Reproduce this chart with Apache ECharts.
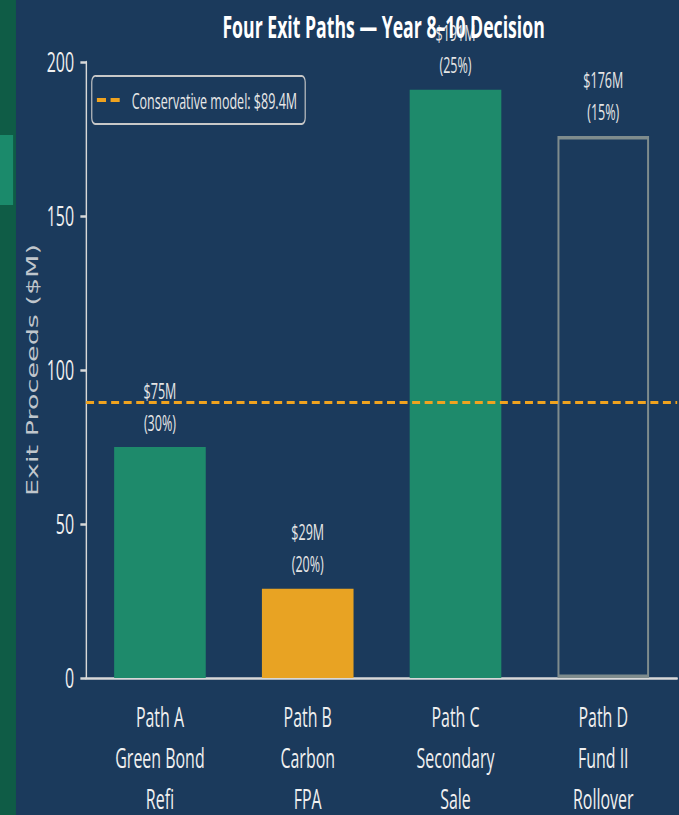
<!DOCTYPE html>
<html><head><meta charset="utf-8">
<script src="https://cdn.jsdelivr.net/npm/echarts@6/dist/echarts.min.js"></script>
<style>
html,body{margin:0;padding:0;background:#1b3a5c;overflow:hidden;width:679px;height:815px;}
#c{width:1191px;height:815px;transform:scaleX(0.57);transform-origin:0 0;}
</style>
</head><body><div id="c"></div>
<script>
const categories = ["Path A\nGreen Bond\nRefi", "Path B\nCarbon\nFPA", "Path C\nSecondary\nSale", "Path D\nFund II\nRollover"];
const proceeds = [75, 29, 191, 176];
const probabilities = [30, 20, 25, 15];
const barColors = ["#1e8a6b", "#e8a323", "#1e8a6b", "outline"];
const conservative = 89.4;
const conservativeName = "Conservative model: $89.4M";
const yTicks = [0, 50, 100, 150, 200];

const FONT = "Open Sans";
const chart = echarts.init(document.getElementById('c'), null, {renderer: 'svg'});
const data = proceeds.map((v, i) => {
  if (barColors[i] === 'outline') {
    return {value: v, itemStyle: {color: 'rgba(0,0,0,0)', borderColor: '#7f8c8d', borderWidth: 3.5}};
  }
  return {value: v, itemStyle: {color: barColors[i]}};
});
chart.setOption({
  backgroundColor: '#1b3a5c',
  animation: false,
  graphic: [
    {type: 'rect', left: 0, top: 0, shape: {width: 28, height: 815}, style: {fill: '#0f5c46'}, z: 0},
    {type: 'rect', left: 0, top: 135, shape: {width: 23, height: 70}, style: {fill: '#1b8a6b'}, z: 1}
  ],
  title: {
    text: 'Four Exit Paths — Year 8–10 Decision',
    left: 668, top: 5, textAlign: 'center',
    textStyle: {color: '#ffffff', fontFamily: FONT, fontWeight: 'bold', fontSize: 31}
  },
  legend: {
    left: 161, top: 76,
    data: [{name: conservativeName, icon: 'path://M0,0 H16 V4 H0 Z M24,0 H40 V4 H24 Z'}],
    backgroundColor: '#1b3a5c',
    borderColor: '#c8c8c8', borderWidth: 2, borderRadius: 6,
    padding: [13, 14, 13, 9],
    itemWidth: 40, itemHeight: 4,
    textStyle: {color: '#e8e8e8', fontFamily: FONT, fontSize: 22, padding: [0, 0, 0, 16]}
  },
  grid: {left: 151, right: 3, top: 62, bottom: 137, containLabel: false, outerBoundsMode: 'none'},
  xAxis: {
    type: 'category', data: categories,
    axisLine: {lineStyle: {color: '#d8d8d8', width: 2.5}},
    axisTick: {alignWithLabel: true, length: 8, lineStyle: {color: '#d8d8d8', width: 2.5}},
    axisLabel: {color: '#f0f0f0', fontFamily: FONT, fontSize: 28, lineHeight: 41, margin: 18}
  },
  yAxis: {
    type: 'value', min: 0, max: 200, interval: 50,
    name: 'Exit Proceeds ($M)', nameLocation: 'middle', nameGap: 68, nameRotate: 90,
    nameTextStyle: {color: '#c0c6cc', fontFamily: 'DejaVu Sans', fontSize: 27},
    splitLine: {show: false},
    axisLine: {show: true, lineStyle: {color: '#d8d8d8', width: 2.5}},
    axisTick: {show: true, length: 10, lineStyle: {color: '#d8d8d8', width: 2.5}},
    axisLabel: {color: '#f0f0f0', fontFamily: FONT, fontSize: 28, margin: 21,
      formatter: v => yTicks.includes(v) ? String(v) : ''}
  },
  series: [
    {
      type: 'bar', data: data, barWidth: '62%',
      label: {
        show: true, position: 'top', distance: 9,
        color: '#e6e6e6', fontFamily: FONT, fontSize: 22, lineHeight: 32,
        formatter: p => '$' + proceeds[p.dataIndex] + 'M\n(' + probabilities[p.dataIndex] + '%)'
      },
      z: 2
    },
    {
      type: 'line', name: conservativeName, data: [],
      symbol: 'none',
      itemStyle: {color: '#f0a31f'},
      lineStyle: {color: '#f0a31f', type: [14, 8], width: 3},
      markLine: {
        symbol: 'none', silent: true, label: {show: false},
        lineStyle: {color: '#f0a31f', type: [14, 8], width: 3},
        data: [{yAxis: conservative}]
      },
      z: 5
    }
  ]
});
</script></body></html>
